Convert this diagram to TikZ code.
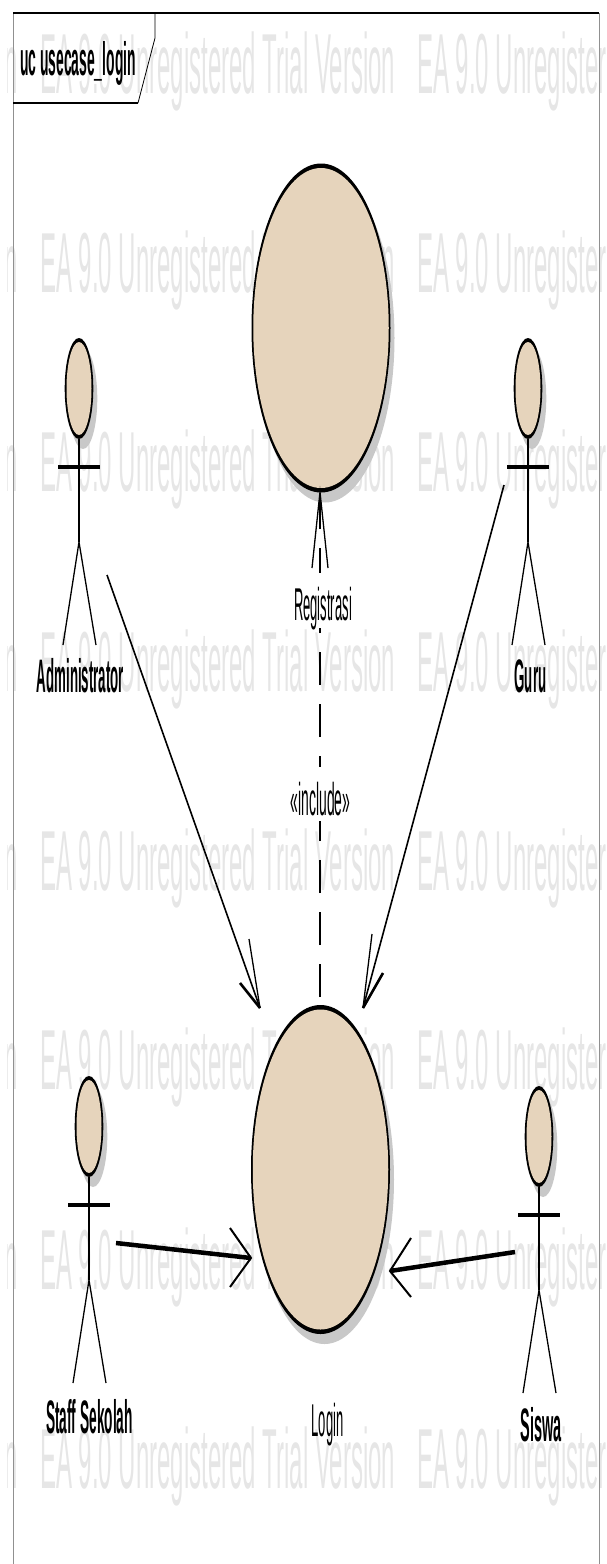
\documentclass[tikz,border=0pt]{standalone}
\usepackage{fontspec}
\setmainfont{Liberation Sans}
\usetikzlibrary{shapes.geometric}
\definecolor{wmgrey}{HTML}{E6E6E6}
\definecolor{ucfill}{HTML}{E6D4BC}
\definecolor{shadowgrey}{HTML}{C8C8C8}
\definecolor{framegrey}{HTML}{909090}
\newcommand{\wmtext}{\scalebox{2.40}[8.52]{\fontsize{10}{12}\selectfont EA 9.0 Unregistered Trial Version}}
\newcommand{\plainlabel}[2][1.3]{\scalebox{#1}[4.6]{\fontsize{10}{12}\selectfont #2}}
\newcommand{\boldlabel}[2][1.33]{\scalebox{#1}[4.7]{\fontsize{10}{12}\selectfont\bfseries #2}}
\tikzset{
  flatnode/.style={inner sep=0pt,outer sep=0pt,text=black},
  wmnode/.style={flatnode,anchor=base west,text=wmgrey},
  ell/.style={ellipse,inner sep=0pt,outer sep=0pt},
  labelbox/.style={flatnode,anchor=base,fill=white,inner xsep=15pt},
  thin line/.style={line width=1.3pt,black},
  thick shaft/.style={line width=4.5pt,black},
  barb/.style={line width=1.3pt,black,line cap=butt},
  fat barb/.style={line width=2.6pt,black,line cap=butt},
}
% name, x, top y
\newcommand{\umlactor}[3]{%
  \node[ell,fill=shadowgrey,minimum width=28.6pt,minimum height=101pt] (#1shadow) at (#2+4,#3+60.5) {};
  \node[ell,fill=black,minimum width=28.6pt,minimum height=101pt] (#1outline) at (#2,#3+50.5) {};
  \node[ell,fill=ucfill,minimum width=25pt,minimum height=93pt] (#1head) at (#2,#3+50.5) {};
  \coordinate (#1armL) at (#2-21,#3+129);
  \coordinate (#1armR) at (#2+21,#3+129);
  \coordinate (#1hip) at (#2,#3+204);
  \coordinate (#1footL) at (#2-16,#3+307);
  \coordinate (#1footR) at (#2+17,#3+307);
  \draw[thin line] (#1outline.south) -- (#1hip);
  \draw[line width=3.8pt,black] (#1armL) -- (#1armR);
  \draw[thin line] (#1footL) -- (#1hip) -- (#1footR);
}
% name, x, y
\newcommand{\usecase}[3]{%
  \node[ell,fill=shadowgrey,minimum width=139pt,minimum height=329pt] (#1shadow) at (#2+4,#3+10) {};
  \node[ell,fill=black,minimum width=139pt,minimum height=329pt] (#1outline) at (#2,#3) {};
  \node[ell,fill=ucfill,minimum width=135.5pt,minimum height=320pt] (#1) at (#2,#3) {};
}
\begin{document}
\begin{tikzpicture}[x=1pt,y=-1pt]
\useasboundingbox (0,0) rectangle (607,1564);
\begin{scope}
\clip (7,0) rectangle (607,1564);
\foreach \r/\by in {0/93,1/292,2/491,3/691,4/890,5/1089,6/1289,7/1488}{
  \foreach \c/\bx in {0/-337,1/40,2/417}{
    \node[wmnode] (wm\r\c) at (\bx,\by) {\wmtext};
  }
}
\end{scope}

% frame
\coordinate (frameTL) at (13,13);
\coordinate (frameTR) at (599,13);
\coordinate (frameBL) at (13,1564);
\coordinate (frameBR) at (599,1564);
\coordinate (tabA) at (155,13);
\coordinate (tabB) at (155,38);
\coordinate (tabC) at (138,103);
\coordinate (tabD) at (13,103);
\draw[framegrey,line width=1pt] (frameTL) -- (frameBL);
\draw[framegrey,line width=1pt] (frameTR) -- (frameBR);
\draw[black,line width=1.2pt] (frameTL) -- (frameTR);
\draw[black,line width=0.8pt] (tabA) -- (tabB) -- (tabC);
\draw[black,line width=1.1pt] (tabC) -- (tabD);
\node[flatnode,anchor=base west] (title) at (20,75) {\boldlabel[1.39]{uc usecase\_login}};

% use cases
\usecase{registrasi}{321}{328}
\usecase{login}{320.5}{1169.5}

% actors
\umlactor{admin}{79}{338}
\umlactor{guru}{528}{338}
\umlactor{staff}{89}{1076}
\umlactor{siswa}{539}{1086}

% include
\coordinate (incStart) at (320,997);
\coordinate (incTip) at (320,492);
\coordinate (incBarbL) at (312,568);
\coordinate (incBarbR) at (328,568);
\draw[thin line,dash pattern=on 33pt off 19pt] (incStart) -- (incTip);
\draw[barb] (incBarbL) -- (incTip) -- (incBarbR);

% administrator -> login
\coordinate (adminStart) at (107,575);
\coordinate (adminTip) at (260,1008);
\coordinate (adminBarbA) at (249,939);
\coordinate (adminBarbB) at (240,983);
\draw[line width=1.6pt,black] (adminStart) -- (adminTip);
\draw[barb] (adminBarbA) -- (adminTip);
\draw[fat barb] (adminBarbB) -- (adminTip);

% guru -> login
\coordinate (guruStart) at (504,485);
\coordinate (guruTip) at (363,1008);
\coordinate (guruBarbA) at (372,934);
\coordinate (guruBarbB) at (383,973);
\draw[line width=1.6pt,black] (guruStart) -- (guruTip);
\draw[barb] (guruBarbA) -- (guruTip);
\draw[fat barb] (guruBarbB) -- (guruTip);

% staff -> login
\coordinate (staffStart) at (116,1243);
\coordinate (staffTip) at (251,1258);
\coordinate (staffBarbA) at (230,1228);
\coordinate (staffBarbB) at (230,1287);
\draw[thick shaft] (staffStart) -- (staffTip);
\draw[line width=2pt,black,line join=miter] (staffBarbA) -- (staffTip) -- (staffBarbB);

% siswa -> login
\coordinate (siswaStart) at (515,1252);
\coordinate (siswaTip) at (390,1271);
\coordinate (siswaBarbA) at (411,1238);
\coordinate (siswaBarbB) at (411,1297);
\draw[thick shaft] (siswaStart) -- (siswaTip);
\draw[line width=2pt,black,line join=miter] (siswaBarbA) -- (siswaTip) -- (siswaBarbB);

% labels
\node[labelbox,text height=47pt,text depth=8pt] (lblRegistrasi) at (323,620) {\plainlabel{Registrasi}};
\node[labelbox,text height=48pt,text depth=6pt] (lblInclude) at (320.5,815) {\plainlabel[1.39]{«include»}};
\node[flatnode,anchor=base] (lblLogin) at (327.5,1436) {\plainlabel{Login}};
\node[flatnode,anchor=base] (lblAdmin) at (80.5,692) {\boldlabel{Administrator}};
\node[flatnode,anchor=base] (lblGuru) at (530.5,692) {\boldlabel{Guru}};
\node[flatnode,anchor=base] (lblStaff) at (89.5,1433) {\boldlabel[1.37]{Staff Sekolah}};
\node[flatnode,anchor=base] (lblSiswa) at (541,1441) {\boldlabel[1.45]{Siswa}};
\end{tikzpicture}
\end{document}
